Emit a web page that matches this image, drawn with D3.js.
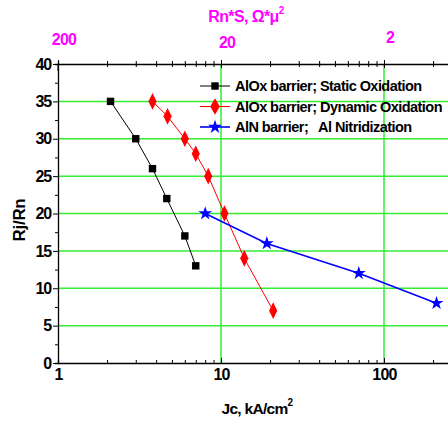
<!DOCTYPE html>
<html>
<head>
<meta charset="utf-8">
<script src="https://cdn.jsdelivr.net/npm/d3@7"></script>
<style>
body { margin:0; background:#fff; }
text { font-family: "Liberation Sans", Arial, sans-serif; font-weight:bold; }
</style>
</head>
<body>
<div class="chart"></div>
<script>
// data
const staticJc = [2.1, 3.0, 3.8, 4.65, 6.0, 7.0];
const staticR  = [35, 30, 26, 22, 17, 13];
const dynJc = [3.8, 4.7, 6.0, 7.0, 8.35, 10.5, 13.9, 20.9];
const dynR  = [35, 33, 30, 28, 25, 20, 14, 7];
const nitJc = [8.0, 19.1, 70, 210];
const nitR  = [20, 16, 12, 8];
const xTicks = [1, 10, 100];
const topTicks = [200, 20, 2];
const yTicks = [0, 5, 10, 15, 20, 25, 30, 35, 40];

const margin = {top:64, left:58, bottom:60, right:0};
const W = 448, H = 423;

const svg = d3.select('.chart').append('svg')
    .attr('width', W)
    .attr('height', H);

const x = d3.scaleLog().domain([1, 275]).range([margin.left, margin.left + 163*Math.log10(275)]);
const y = d3.scaleLinear().domain([0, 40]).range([363, 64]);
const xTop = d3.scaleLog().domain([200, 200/275]).range(x.range());

// grid
svg.append('g').selectAll('line')
    .data(yTicks.filter(d => d > 0 && d < 40))
    .enter().append('line')
    .attr('x1', x(1)).attr('x2', W)
    .attr('y1', d => y(d)).attr('y2', d => y(d))
    .attr('stroke', '#33ee33').attr('stroke-width', 1.5);
svg.append('g').selectAll('line')
    .data([10, 100])
    .enter().append('line')
    .attr('x1', d => x(d)).attr('x2', d => x(d))
    .attr('y1', y(0)).attr('y2', y(40))
    .attr('stroke', '#33ee33').attr('stroke-width', 1.5);

// minor log ticks
function logMinor(lo, hi) {
    let out = [];
    for (let p = 1; p <= 1000; p *= 10)
        for (let k = 2; k <= 9; k++) { const v = k*p; if (v > lo && v < hi) out.push(v); }
    return out;
}
const minors = logMinor(1, 275);

// bottom axis (ticks inward)
svg.append('g').attr('transform', `translate(0,${y(0)})`)
    .call(d3.axisBottom(x).tickValues(minors).tickSize(-3).tickFormat(''))
    .call(g => g.select('.domain').attr('stroke-width', 1.3));
svg.append('g').attr('transform', `translate(0,${y(0)})`)
    .call(d3.axisBottom(x).tickValues(xTicks).tickSize(-5).tickFormat(d3.format('d')))
    .call(g => g.select('.domain').remove())
    .call(g => g.selectAll('text').attr('font-size', 16).attr('dy', 14).attr('fill', '#000').attr('letter-spacing', -0.8));

// top axis (ticks crossing, mirrored from the bottom)
svg.append('g').attr('transform', `translate(0,${y(40)})`)
    .call(d3.axisTop(x).tickValues(minors).tickSize(3).tickFormat(''))
    .call(g => g.select('.domain').attr('stroke-width', 1.3))
    .call(g => g.selectAll('.tick line').attr('y1', -3).attr('y2', 3));
svg.append('g').attr('transform', `translate(0,${y(40)})`)
    .call(d3.axisTop(xTop).tickValues(topTicks).tickSize(4).tickFormat(''))
    .call(g => g.select('.domain').remove())
    .call(g => g.selectAll('.tick line').attr('y1', -4).attr('y2', 4));
svg.append('g').selectAll('text')
    .data(topTicks)
    .enter().append('text')
    .attr('x', d => xTop(d) + 6)
    .attr('y', (d, i) => [45, 48, 43][i])
    .attr('text-anchor', 'middle')
    .attr('font-size', 16)
    .attr('letter-spacing', -0.8)
    .attr('fill', '#ff00ff')
    .text(d => d);

// left axis
svg.append('g').attr('transform', `translate(${x(1)},0)`)
    .call(d3.axisLeft(y).tickValues(d3.range(2.5, 40, 5)).tickSize(3).tickFormat(''))
    .call(g => g.select('.domain').attr('stroke-width', 1.3));
svg.append('g').attr('transform', `translate(${x(1)},0)`)
    .call(d3.axisLeft(y).tickValues(yTicks).tickSize(5).tickPadding(2))
    .call(g => g.select('.domain').remove())
    .call(g => g.selectAll('text').attr('font-size', 16).attr('fill', '#000').attr('letter-spacing', -1.2));
svg.append('line')
    .attr('x1', x(1)).attr('x2', x(1)).attr('y1', y(40)).attr('y2', y(40) + 7)
    .attr('stroke', '#000');

// axis titles
svg.append('text')
    .attr('transform', `translate(25,220) rotate(-90)`)
    .attr('text-anchor', 'middle')
    .attr('font-size', 17)
    .attr('letter-spacing', -0.3)
    .text('Rj/Rn');

const xl = svg.append('text')
    .attr('x', 257).attr('y', 414)
    .attr('text-anchor', 'middle')
    .attr('font-size', 15.5)
    .attr('letter-spacing', -0.7)
    .text('Jc, kA/cm');
xl.append('tspan').attr('font-size', 10).attr('dy', -8).text('2');

const tl = svg.append('text')
    .attr('x', 246).attr('y', 22)
    .attr('text-anchor', 'middle')
    .attr('font-size', 16)
    .attr('letter-spacing', -0.6)
    .attr('fill', '#ff00ff')
    .text('Rn*S, Ω*μ');
tl.append('tspan').attr('font-size', 10).attr('dy', -8).text('2');

// series
const series = [
    {name: 'AlOx barrier; Static Oxidation', jc: staticJc, r: staticR, color: '#000', sym: d3.symbolSquare, size: 55, w: 1},
    {name: 'AlOx barrier; Dynamic Oxidation', jc: dynJc, r: dynR, color: '#ff0000', sym: d3.symbolDiamond, size: 80, w: 1},
    {name: 'AlN barrier;   Al Nitridization', jc: nitJc, r: nitR, color: '#0000ff', sym: d3.symbolStar, size: 60, w: 1.6}
];

const line = d3.line().x(d => x(d[0])).y(d => y(d[1]));

series.forEach(s => {
    const pts = s.jc.map((v, i) => [v, s.r[i]]);
    svg.append('path')
        .datum(pts)
        .attr('d', line)
        .attr('fill', 'none')
        .attr('stroke', s.color)
        .attr('stroke-width', s.w);
    svg.append('g').selectAll('path')
        .data(pts)
        .enter().append('path')
        .attr('d', d3.symbol().type(s.sym).size(s.size))
        .attr('transform', d => `translate(${x(d[0])},${y(d[1])})` + (s.sym === d3.symbolDiamond ? ' scale(0.85,1)' : ''))
        .attr('fill', s.color);
});

// legend
const lg = svg.append('g').selectAll('g')
    .data(series)
    .enter().append('g')
    .attr('transform', (d, i) => `translate(200,${86 + i*20.5})`);
lg.append('line')
    .attr('x1', 0).attr('x2', 30)
    .attr('stroke', d => d.color)
    .attr('stroke-width', d => d.w);
lg.append('path')
    .attr('d', d => d3.symbol().type(d.sym).size(d.size)())
    .attr('transform', 'translate(15,0)')
    .attr('fill', d => d.color);
lg.append('text')
    .attr('x', 35).attr('dy', '0.36em')
    .attr('font-size', 14.5)
    .attr('letter-spacing', -0.55)
    .attr('xml:space', 'preserve')
    .style('white-space', 'pre')
    .text(d => d.name);
</script>
</body>
</html>
